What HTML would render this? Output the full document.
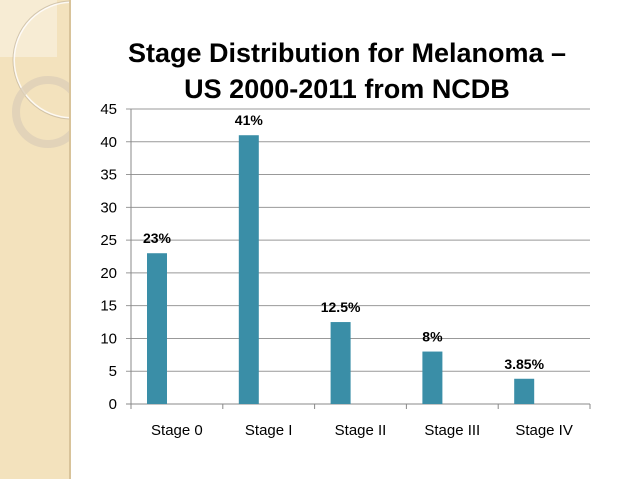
<!DOCTYPE html>
<html><head><meta charset="utf-8"><style>
body{margin:0;width:638px;height:479px;overflow:hidden;background:#fff;font-family:"Liberation Sans",sans-serif}
</style></head><body>
<svg width="638" height="479">
<defs><clipPath id="pc"><rect x="0" y="0" width="70" height="479"/></clipPath></defs>
<g>
<rect x="0" y="0" width="70" height="479" fill="#f3e2bd"/>
<g clip-path="url(#pc)">
<rect x="0" y="0" width="57" height="57" fill="#f7ecd4"/>
<circle cx="72" cy="60" r="58" fill="none" stroke="#fff" stroke-width="2" opacity="0.8"/>
<circle cx="72" cy="60" r="59" fill="none" stroke="#b9a88a" stroke-width="1" opacity="0.6"/>
<circle cx="48" cy="112" r="32" fill="none" stroke="#ddd0b8" stroke-width="8" opacity="0.8"/>
</g>
<rect x="69" y="0" width="2" height="479" fill="#d8c39a"/>
</g>
<text x="347" y="62" font-size="27" font-weight="bold" text-anchor="middle">Stage Distribution for Melanoma –</text>
<text x="347" y="98" font-size="27" font-weight="bold" text-anchor="middle">US 2000-2011 from NCDB</text>
<g id="chart"></g>
</svg>
<script>
const categories=["Stage 0","Stage I","Stage II","Stage III","Stage IV"];
const values=[23,41,12.5,8,3.85];
const valueLabels=["23%","41%","12.5%","8%","3.85%"];
const yTicks=[0,5,10,15,20,25,30,35,40,45];
const NS="http://www.w3.org/2000/svg";
const g=document.getElementById('chart');
const x0=131,x1=590,y0=404,y1=109,yMax=45;
const cw=(x1-x0)/categories.length;
const y=v=>y0-(v/yMax)*(y0-y1);
function mk(t,a,txt){const e=document.createElementNS(NS,t);for(const k in a)e.setAttribute(k,a[k]);if(txt!==undefined)e.textContent=txt;g.appendChild(e);return e;}
yTicks.forEach(t=>{
 const l=mk('line',{x1:x0-5,x2:x1,y1:y(t),y2:y(t),stroke:t===0?'#888':'#999','stroke-width':1});
 
 
 const tx=mk('text',{x:x0-14,y:y(t)+5,'font-size':15,'text-anchor':'end'},t);
 
 
});
const ax=mk('line',{x1:x0,x2:x0,y1:y1,y2:y0,stroke:'#888'});


for(let i=0;i<=categories.length;i++){const t=mk('line',{x1:x0+i*cw,x2:x0+i*cw,y1:y0,y2:y0+5,stroke:'#888'});
 
 }
categories.forEach((c,i)=>{
 const bx=x0+i*cw+16;
 const b=mk('rect',{x:bx,y:y(values[i]),width:20,height:y0-y(values[i]),fill:'#3a8ea7'});
 
 
 const lb=mk('text',{x:bx+10,y:y(values[i])-10,'font-size':14,'font-weight':'bold','text-anchor':'middle'},valueLabels[i]);
 
 
 const cl=mk('text',{x:x0+i*cw+cw/2,y:435,'font-size':15,'text-anchor':'middle'},c);
 
 
});
</script>
</body></html>
